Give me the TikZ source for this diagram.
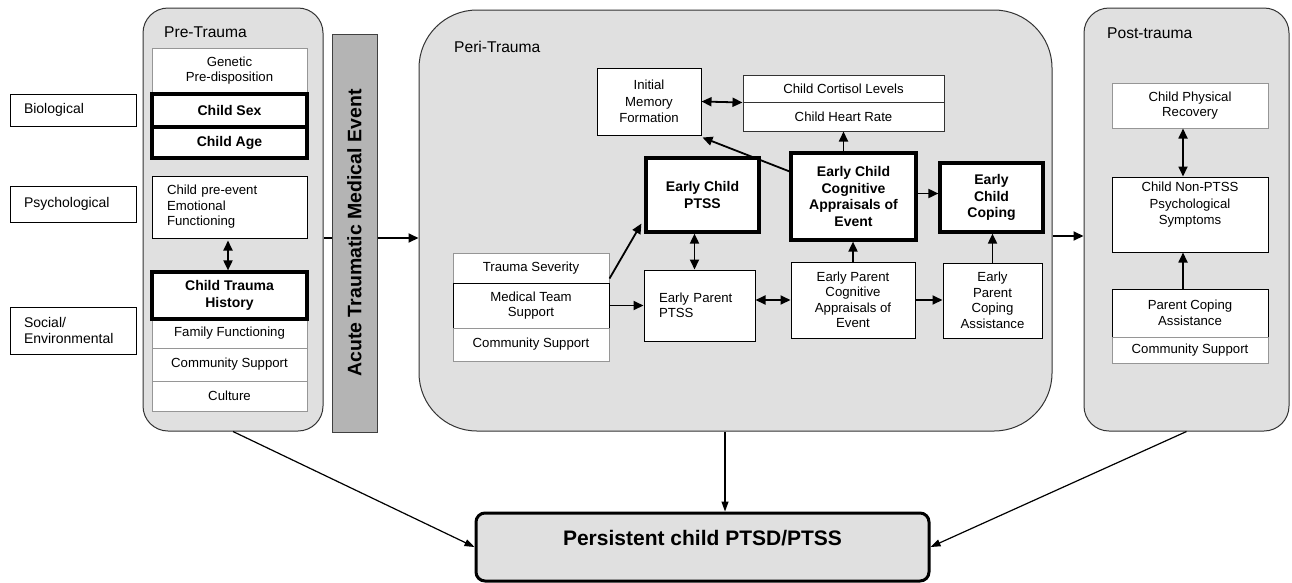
\documentclass[tikz,border=0pt]{standalone}
\usepackage{fontspec}
\setmainfont{Liberation Sans}
\usetikzlibrary{arrows.meta,calc}
\definecolor{panelgray}{RGB}{224,224,224}
\definecolor{bargray}{RGB}{180,180,180}
\definecolor{lightline}{RGB}{150,150,150}
\tikzset{
  panel/.style={draw=black!80, line width=1pt, fill=panelgray, inner sep=0pt},
  bx/.style={draw=black, line width=1pt, fill=white, inner sep=0pt, align=center,
    font=\fontsize{13.2}{15.5}\selectfont},
  graybx/.style={bx, draw=lightline},
  thickbx/.style={bx, line width=3.2pt, font=\fontsize{14}{16.5}\selectfont\bfseries},
  lbl/.style={bx, font=\fontsize{14}{16}\selectfont, align=left, inner xsep=14pt},
  ttl/.style={anchor=west, inner sep=0pt, font=\fontsize{15.6}{18}\selectfont},
  arr/.style={line width=1.8pt, -{Triangle[length=10pt,width=9pt]}},
  dbl/.style={line width=1.8pt, {Triangle[length=10pt,width=9pt]}-{Triangle[length=10pt,width=9pt]}},
  thinarr/.style={line width=1.2pt, -{Triangle[length=10pt,width=7pt]}},
}
\begin{document}
\begin{tikzpicture}[x=1pt,y=-1pt]
\useasboundingbox (0,0) rectangle (1292,582);

% ---------- left labels
\node[lbl, minimum width=126, minimum height=32, text width=98pt] (bio) at (73,110) {Biological};
\node[lbl, minimum width=126, minimum height=36, text width=98pt] (psy) at (73,204) {Psychological};
\node[lbl, minimum width=126, minimum height=47, text width=98pt] (soc) at (73,330.5) {Social/\\Environmental};

% ---------- panels
\node[panel, rounded corners=25pt, minimum width=180, minimum height=423] (pre) at (233,219.5) {};
\node[panel, rounded corners=58pt, minimum width=633, minimum height=421] (peri) at (735.5,220.5) {};
\node[panel, rounded corners=25pt, minimum width=205, minimum height=423] (post) at (1186.5,219.5) {};
\node[draw=black!75, line width=1pt, fill=bargray, rotate=90, minimum width=398, minimum height=45,
      inner sep=0pt, font=\fontsize{19.5}{22}\selectfont\bfseries] (bar) at (354.5,233) {Acute Traumatic Medical Event};

\node[ttl] (pretitle) at (164,32) {Pre-Trauma};
\node[ttl] (perititle) at (454,47) {Peri-Trauma};
\node[ttl] (posttitle) at (1107,33) {Post-trauma};

% ---------- pre-trauma boxes
\node[graybx, minimum width=155, minimum height=45] (gen) at (229.5,70.5) {Genetic\\Pre-disposition};
\node[thickbx, minimum width=155, minimum height=33] (sex) at (229.5,110.5) {Child Sex};
\node[thickbx, minimum width=155, minimum height=31] (age) at (229.5,142.5) {Child Age};
\node[bx, minimum width=155, minimum height=62, text width=125pt, align=left, inner xsep=15pt] (prev) at (229.5,207) {Child pre-event\\Emotional\\Functioning};
\node[graybx, minimum width=155, minimum height=29] (fam) at (229.5,333.5) {Family Functioning};
\node[graybx, minimum width=155, minimum height=33] (com1) at (229.5,364.5) {Community Support};
\node[graybx, minimum width=155, minimum height=30] (cul) at (229.5,396) {Culture};
\node[thickbx, minimum width=155, minimum height=47] (hist) at (229.5,295.5) {Child Trauma\\History};
\draw[dbl] ([xshift=-1.5pt]prev.south) ++(0,2) -- ([xshift=-1.5pt]hist.north) ;

% ---------- peri-trauma boxes
\node[bx, minimum width=104, minimum height=67, font=\fontsize{13.2}{16.5}\selectfont] (imf) at (649,101.5) {Initial\\Memory\\Formation};
\node[bx, draw=black!80, minimum width=201, minimum height=27] (cort) at (843.5,88.5) {Child Cortisol Levels};
\node[bx, draw=black!80, minimum width=201, minimum height=29] (heart) at (843.5,116.5) {Child Heart Rate};
\node[thickbx, minimum width=113, minimum height=74] (ecptss) at (702.5,195) {Early Child\\PTSS};
\node[thickbx, minimum width=125, minimum height=87] (ecca) at (853.5,196.5) {Early Child\\Cognitive\\Appraisals of\\Event};
\node[thickbx, minimum width=103, minimum height=69] (ecc) at (991.5,197.5) {Early\\Child\\Coping};
\node[graybx, minimum width=156, minimum height=30] (ts) at (531,268) {Trauma Severity};
\node[bx, minimum width=156, minimum height=45] (mts) at (531,305.5) {Medical Team\\Support};
\node[graybx, minimum width=156, minimum height=33] (com2) at (531,344.5) {Community Support};
\node[bx, minimum width=111, minimum height=71, text width=81pt, align=left, inner xsep=15pt] (epptss) at (699.5,305.5) {Early Parent\\PTSS};
\node[bx, minimum width=124, minimum height=76] (epca) at (853,300) {Early Parent\\Cognitive\\Appraisals of\\Event};
\node[bx, minimum width=99, minimum height=75] (epcop) at (992.5,300.5) {Early\\Parent\\Coping\\Assistance};

% ---------- post-trauma boxes
\node[graybx, minimum width=156, minimum height=45] (cpr) at (1190,105.5) {Child Physical\\Recovery};
\node[bx, minimum width=156, minimum height=75] (cnp) at (1190,214.5) {};
\node[inner sep=0pt, align=center, font=\fontsize{13.2}{16.5}\selectfont] (cnptext) at (1190,205) {Child Non-PTSS\\Psychological\\Symptoms};
\node[bx, minimum width=156, minimum height=48] (pca) at (1190,313) {Parent Coping\\Assistance};
\node[graybx, minimum width=156, minimum height=26] (com3) at (1190,350) {Community Support};

% ---------- persistent box
\node[draw=black, line width=3pt, fill=panelgray, rounded corners=9pt, minimum width=453, minimum height=68, inner sep=0pt] (pers) at (702.5,547) {};
\node[inner sep=0pt, font=\fontsize{21}{24}\selectfont\bfseries] (perstext) at (702.5,538) {Persistent child PTSD/PTSS};

% ---------- connectors
\draw[line width=1.5pt] ([yshift=-5pt]bar.north) -- ([yshift=-5pt]bar.north -| pre.east);
\draw[arr] ([yshift=-5pt]bar.south) -- ([yshift=-5pt]bar.south -| peri.west);

\draw[dbl] (imf.east) -- (cort.south west);
\draw[arr] (heart.south |- ecca.north) -- (heart.south);
\draw[arr] ($(ecca.north west)+(0,20)$) -- ($(imf.south east)+(1,2)$);
\draw[arr] ([yshift=3pt]ecca.east) -- ([yshift=3pt]ecca.east -| ecc.west);
\draw[arr] ($(ts.south east)+(0,-5)$) -- ($(ecptss.south west)+(-3,-10)$);
\draw[dbl] ([xshift=-5pt]epptss.north) -- ([xshift=-5pt]epptss.north |- ecptss.south);
\draw[arr] (mts.east) -- (mts.east -| epptss.west);
\draw[dbl] (epca.west -| epptss.east) -- (epca.west);
\draw[arr] (epca.north) -- (epca.north |- ecca.south);
\draw[arr] (epca.east) -- (epca.east -| epcop.west);
\draw[arr] (epcop.north) -- (epcop.north |- ecc.south);

\draw[arr] ([yshift=-15.5pt]peri.east) -- ([yshift=-15.5pt]peri.east -| post.west);

\draw[dbl] ([xshift=-7pt]cpr.south) -- ([xshift=-7pt]cnp.north);
\draw[arr] ([xshift=-7pt]pca.north) -- ([xshift=-7pt]cnp.south);

\draw[thinarr] (pre.south) -- (pers.west);
\draw[thinarr] ([xshift=22.5pt]pers.north |- peri.south) -- ([xshift=22.5pt]pers.north);
\draw[thinarr] (post.south) -- (pers.east);
\end{tikzpicture}
\end{document}
